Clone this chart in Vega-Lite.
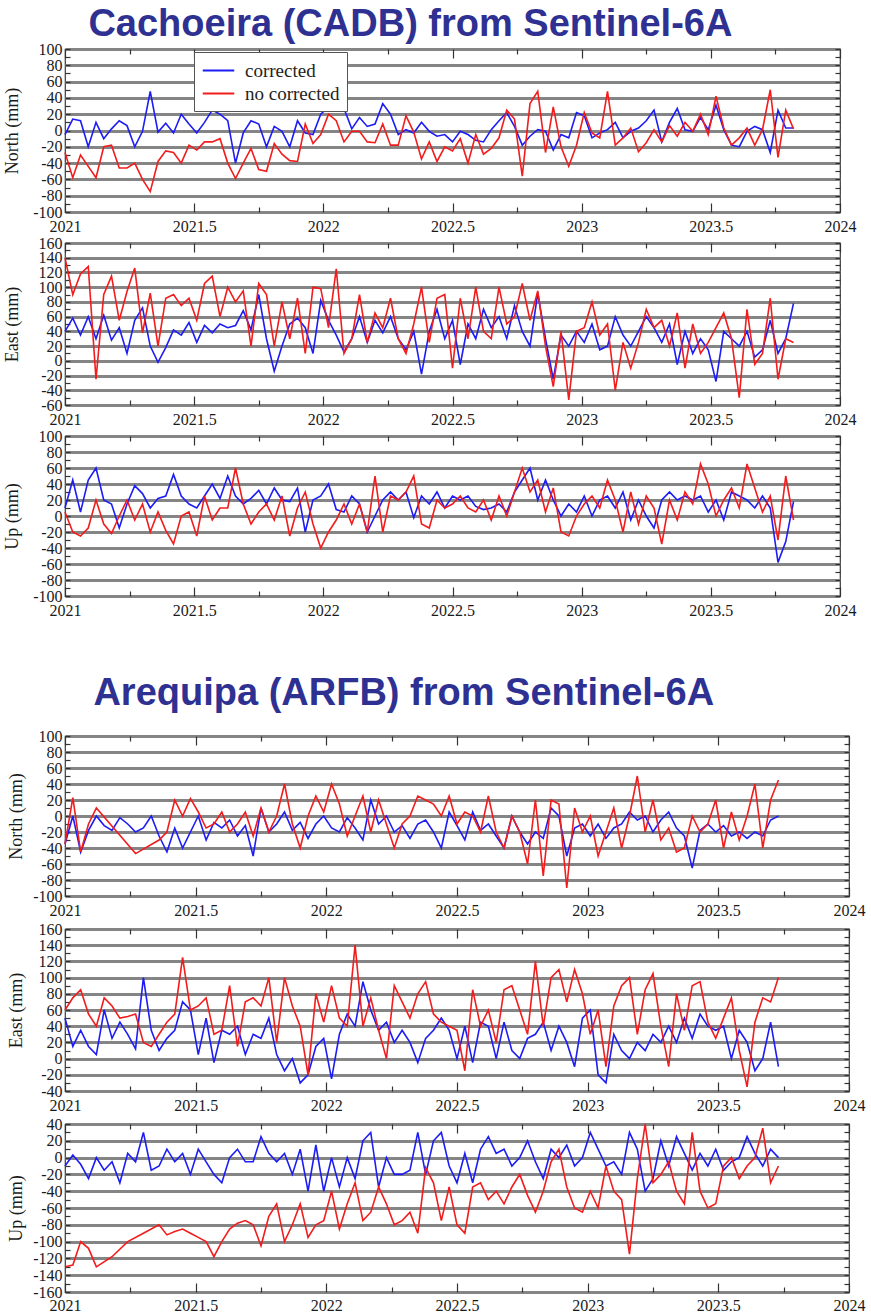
{
"$schema":"https://vega.github.io/schema/vega-lite/v6.json",
"background":"white",
"padding":{"left":2,"top":6,"right":4,"bottom":0},
"config":{
 "view":{"stroke":"#3a3a3a","strokeWidth":1.2},
 "axis":{"domain":false,"labelFont":"Liberation Serif","labelFontSize":16,"labelColor":"#1a1a1a","titleFont":"Liberation Serif","titleFontSize":18,"titleFontWeight":"normal","titleColor":"#1a1a1a","tickColor":"#333333","tickWidth":1.2,"labelOverlap":false,"labelFlush":false,"gridColor":"#858585","gridWidth":3},
 "title":{"font":"Liberation Sans","fontSize":38,"fontWeight":"bold","color":"#2e3192","anchor":"start"}
},
"datasets":{
"cadb":[
{"t":2021.00,"nc":-5,"nn":-27,"ec":40,"en":140,"uc":10,"un":5},
{"t":2021.03,"nc":14,"nn":-58,"ec":58,"en":90,"uc":45,"un":-20},
{"t":2021.06,"nc":12,"nn":-30,"ec":35,"en":118,"uc":5,"un":-25},
{"t":2021.09,"nc":-20,"nn":-44,"ec":60,"en":128,"uc":45,"un":-15},
{"t":2021.12,"nc":10,"nn":-58,"ec":30,"en":-25,"uc":60,"un":20},
{"t":2021.15,"nc":-10,"nn":-20,"ec":62,"en":90,"uc":20,"un":-10},
{"t":2021.18,"nc":2,"nn":-18,"ec":28,"en":115,"uc":15,"un":-22},
{"t":2021.21,"nc":12,"nn":-46,"ec":45,"en":55,"uc":-15,"un":0},
{"t":2021.24,"nc":6,"nn":-46,"ec":10,"en":94,"uc":15,"un":20},
{"t":2021.27,"nc":-20,"nn":-40,"ec":55,"en":126,"uc":38,"un":-5},
{"t":2021.30,"nc":-1,"nn":-60,"ec":72,"en":38,"uc":28,"un":15},
{"t":2021.33,"nc":48,"nn":-75,"ec":20,"en":92,"uc":10,"un":-20},
{"t":2021.36,"nc":-2,"nn":-38,"ec":-2,"en":20,"uc":22,"un":5},
{"t":2021.39,"nc":9,"nn":-25,"ec":18,"en":85,"uc":25,"un":-18},
{"t":2021.42,"nc":-3,"nn":-27,"ec":42,"en":90,"uc":52,"un":-35},
{"t":2021.45,"nc":20,"nn":-40,"ec":35,"en":75,"uc":25,"un":0},
{"t":2021.48,"nc":8,"nn":-18,"ec":52,"en":85,"uc":15,"un":5},
{"t":2021.51,"nc":-3,"nn":-24,"ec":25,"en":55,"uc":10,"un":-25},
{"t":2021.54,"nc":10,"nn":-14,"ec":48,"en":105,"uc":25,"un":25},
{"t":2021.57,"nc":25,"nn":-14,"ec":38,"en":115,"uc":40,"un":-5},
{"t":2021.60,"nc":20,"nn":-10,"ec":50,"en":60,"uc":22,"un":10},
{"t":2021.63,"nc":12,"nn":-40,"ec":45,"en":100,"uc":50,"un":10},
{"t":2021.66,"nc":-40,"nn":-59,"ec":48,"en":80,"uc":25,"un":60},
{"t":2021.69,"nc":-3,"nn":-40,"ec":68,"en":95,"uc":15,"un":15},
{"t":2021.72,"nc":12,"nn":-22,"ec":42,"en":20,"uc":22,"un":-10},
{"t":2021.75,"nc":8,"nn":-48,"ec":90,"en":105,"uc":32,"un":5},
{"t":2021.78,"nc":-20,"nn":-50,"ec":30,"en":90,"uc":15,"un":15},
{"t":2021.81,"nc":5,"nn":-16,"ec":-14,"en":20,"uc":35,"un":-5},
{"t":2021.84,"nc":-1,"nn":-29,"ec":20,"en":80,"uc":20,"un":25},
{"t":2021.87,"nc":-20,"nn":-37,"ec":50,"en":30,"uc":18,"un":-25},
{"t":2021.90,"nc":12,"nn":-38,"ec":58,"en":85,"uc":35,"un":10},
{"t":2021.93,"nc":-3,"nn":8,"ec":45,"en":10,"uc":-20,"un":30},
{"t":2021.96,"nc":-5,"nn":-16,"ec":10,"en":100,"uc":20,"un":-10},
{"t":2021.99,"nc":20,"nn":-5,"ec":82,"en":98,"uc":25,"un":-40},
{"t":2022.02,"nc":29,"nn":20,"ec":55,"en":45,"uc":40,"un":-20},
{"t":2022.05,"nc":25,"nn":12,"ec":35,"en":125,"uc":8,"un":-5},
{"t":2022.08,"nc":27,"nn":-14,"ec":12,"en":10,"uc":5,"un":15},
{"t":2022.11,"nc":2,"nn":-1,"ec":30,"en":30,"uc":25,"un":-10},
{"t":2022.14,"nc":16,"nn":-1,"ec":60,"en":90,"uc":15,"un":15},
{"t":2022.17,"nc":5,"nn":-14,"ec":25,"en":25,"uc":-20,"un":-20},
{"t":2022.20,"nc":8,"nn":-15,"ec":55,"en":65,"uc":0,"un":50},
{"t":2022.23,"nc":33,"nn":8,"ec":38,"en":45,"uc":20,"un":-20},
{"t":2022.26,"nc":20,"nn":-18,"ec":60,"en":85,"uc":30,"un":25},
{"t":2022.29,"nc":-5,"nn":-18,"ec":30,"en":30,"uc":20,"un":20},
{"t":2022.32,"nc":1,"nn":18,"ec":15,"en":10,"uc":30,"un":30},
{"t":2022.35,"nc":-3,"nn":-2,"ec":40,"en":50,"uc":-2,"un":50},
{"t":2022.38,"nc":10,"nn":-35,"ec":-18,"en":100,"uc":25,"un":-10},
{"t":2022.41,"nc":-1,"nn":-14,"ec":40,"en":25,"uc":15,"un":-15},
{"t":2022.44,"nc":-7,"nn":-38,"ec":70,"en":85,"uc":30,"un":20},
{"t":2022.47,"nc":-5,"nn":-20,"ec":30,"en":90,"uc":10,"un":10},
{"t":2022.50,"nc":-14,"nn":-25,"ec":55,"en":-10,"uc":25,"un":15},
{"t":2022.53,"nc":-1,"nn":-10,"ec":-5,"en":85,"uc":20,"un":25},
{"t":2022.56,"nc":-5,"nn":-40,"ec":50,"en":30,"uc":25,"un":10},
{"t":2022.59,"nc":-12,"nn":-5,"ec":30,"en":100,"uc":12,"un":5},
{"t":2022.62,"nc":-14,"nn":-29,"ec":70,"en":40,"uc":8,"un":20},
{"t":2022.65,"nc":1,"nn":-22,"ec":45,"en":30,"uc":10,"un":-5},
{"t":2022.68,"nc":12,"nn":-9,"ec":60,"en":100,"uc":15,"un":25},
{"t":2022.71,"nc":22,"nn":25,"ec":30,"en":50,"uc":5,"un":0},
{"t":2022.74,"nc":5,"nn":14,"ec":75,"en":60,"uc":30,"un":30},
{"t":2022.77,"nc":-18,"nn":-56,"ec":40,"en":105,"uc":45,"un":60},
{"t":2022.80,"nc":-7,"nn":33,"ec":20,"en":55,"uc":60,"un":30},
{"t":2022.83,"nc":1,"nn":48,"ec":92,"en":95,"uc":20,"un":45},
{"t":2022.86,"nc":-1,"nn":-27,"ec":30,"en":20,"uc":45,"un":5},
{"t":2022.89,"nc":-24,"nn":29,"ec":-25,"en":-35,"uc":20,"un":35},
{"t":2022.92,"nc":-5,"nn":-20,"ec":35,"en":40,"uc":0,"un":-20},
{"t":2022.95,"nc":-9,"nn":-44,"ec":20,"en":-53,"uc":15,"un":-25},
{"t":2022.98,"nc":22,"nn":-18,"ec":40,"en":40,"uc":5,"un":0},
{"t":2023.01,"nc":18,"nn":22,"ec":25,"en":45,"uc":25,"un":15},
{"t":2023.04,"nc":-9,"nn":-3,"ec":50,"en":80,"uc":0,"un":25},
{"t":2023.07,"nc":-3,"nn":-9,"ec":15,"en":35,"uc":20,"un":10},
{"t":2023.10,"nc":1,"nn":48,"ec":20,"en":50,"uc":25,"un":45},
{"t":2023.13,"nc":10,"nn":-18,"ec":60,"en":-40,"uc":10,"un":20},
{"t":2023.16,"nc":-9,"nn":-9,"ec":35,"en":25,"uc":30,"un":-20},
{"t":2023.19,"nc":-1,"nn":3,"ec":20,"en":-10,"uc":-5,"un":30},
{"t":2023.22,"nc":3,"nn":-26,"ec":40,"en":25,"uc":20,"un":-10},
{"t":2023.25,"nc":12,"nn":-15,"ec":60,"en":70,"uc":0,"un":25},
{"t":2023.28,"nc":25,"nn":1,"ec":45,"en":45,"uc":-15,"un":10},
{"t":2023.31,"nc":-14,"nn":-14,"ec":25,"en":55,"uc":20,"un":-35},
{"t":2023.34,"nc":10,"nn":6,"ec":50,"en":20,"uc":30,"un":20},
{"t":2023.37,"nc":27,"nn":-7,"ec":-5,"en":65,"uc":20,"un":-5},
{"t":2023.40,"nc":1,"nn":10,"ec":40,"en":-10,"uc":25,"un":30},
{"t":2023.43,"nc":-1,"nn":-1,"ec":10,"en":50,"uc":20,"un":15},
{"t":2023.46,"nc":16,"nn":20,"ec":30,"en":10,"uc":25,"un":65},
{"t":2023.49,"nc":1,"nn":-5,"ec":15,"en":25,"uc":5,"un":40},
{"t":2023.52,"nc":31,"nn":42,"ec":-28,"en":45,"uc":20,"un":0},
{"t":2023.55,"nc":1,"nn":3,"ec":40,"en":65,"uc":-5,"un":20},
{"t":2023.58,"nc":-18,"nn":-18,"ec":30,"en":30,"uc":30,"un":35},
{"t":2023.61,"nc":-20,"nn":-9,"ec":20,"en":-50,"uc":25,"un":10},
{"t":2023.64,"nc":-1,"nn":3,"ec":40,"en":70,"uc":20,"un":65},
{"t":2023.67,"nc":5,"nn":-18,"ec":5,"en":-5,"uc":10,"un":35},
{"t":2023.70,"nc":1,"nn":1,"ec":15,"en":10,"uc":25,"un":5},
{"t":2023.73,"nc":-27,"nn":50,"ec":55,"en":85,"uc":10,"un":25},
{"t":2023.76,"nc":25,"nn":-33,"ec":10,"en":-25,"uc":-58,"un":-30},
{"t":2023.79,"nc":3,"nn":25,"ec":30,"en":30,"uc":-32,"un":50},
{"t":2023.82,"nc":3,"nn":2,"ec":78,"en":25,"uc":18,"un":-5}
],
"arfb":[
{"t":2021.00,"nc":-35,"nn":-35,"ec":50,"en":60,"uc":-10,"un":-130},
{"t":2021.03,"nc":0,"nn":23,"ec":15,"en":75,"uc":3,"un":-128},
{"t":2021.06,"nc":-45,"nn":-45,"ec":35,"en":85,"uc":-8,"un":-100},
{"t":2021.09,"nc":-18,"nn":-10,"ec":15,"en":55,"uc":-25,"un":-108},
{"t":2021.12,"nc":0,"nn":10,"ec":5,"en":40,"uc":0,"un":-130},
{"t":2021.15,"nc":-12,"nn":null,"ec":60,"en":75,"uc":-15,"un":null},
{"t":2021.18,"nc":-18,"nn":null,"ec":25,"en":65,"uc":-5,"un":-118},
{"t":2021.21,"nc":-2,"nn":null,"ec":45,"en":50,"uc":-30,"un":null},
{"t":2021.24,"nc":-10,"nn":null,"ec":30,"en":52,"uc":5,"un":-100},
{"t":2021.27,"nc":-20,"nn":-47,"ec":12,"en":55,"uc":-5,"un":null},
{"t":2021.30,"nc":-15,"nn":null,"ec":100,"en":20,"uc":30,"un":-90},
{"t":2021.33,"nc":0,"nn":null,"ec":35,"en":15,"uc":-15,"un":null},
{"t":2021.36,"nc":-25,"nn":-30,"ec":10,"en":30,"uc":-10,"un":-80},
{"t":2021.39,"nc":-45,"nn":-20,"ec":25,"en":45,"uc":10,"un":-92},
{"t":2021.42,"nc":-15,"nn":20,"ec":35,"en":55,"uc":-5,"un":-88},
{"t":2021.45,"nc":-40,"nn":0,"ec":70,"en":125,"uc":5,"un":-85},
{"t":2021.48,"nc":-20,"nn":22,"ec":60,"en":60,"uc":-20,"un":-90},
{"t":2021.51,"nc":0,"nn":5,"ec":5,"en":65,"uc":10,"un":-95},
{"t":2021.54,"nc":-30,"nn":-15,"ec":50,"en":75,"uc":-5,"un":-100},
{"t":2021.57,"nc":-8,"nn":-10,"ec":-5,"en":30,"uc":-20,"un":-118},
{"t":2021.60,"nc":-15,"nn":5,"ec":35,"en":35,"uc":-30,"un":-100},
{"t":2021.63,"nc":-5,"nn":-20,"ec":30,"en":90,"uc":0,"un":-85},
{"t":2021.66,"nc":-25,"nn":-10,"ec":40,"en":15,"uc":10,"un":-78},
{"t":2021.69,"nc":-12,"nn":5,"ec":5,"en":70,"uc":-5,"un":-75},
{"t":2021.72,"nc":-50,"nn":-25,"ec":30,"en":75,"uc":-5,"un":-80},
{"t":2021.75,"nc":10,"nn":10,"ec":25,"en":65,"uc":25,"un":-105},
{"t":2021.78,"nc":-20,"nn":-20,"ec":50,"en":100,"uc":5,"un":-70},
{"t":2021.81,"nc":-10,"nn":0,"ec":5,"en":20,"uc":-5,"un":-55},
{"t":2021.84,"nc":5,"nn":40,"ec":-15,"en":100,"uc":5,"un":-100},
{"t":2021.87,"nc":-18,"nn":-10,"ec":0,"en":65,"uc":-20,"un":-80},
{"t":2021.90,"nc":-8,"nn":-40,"ec":-30,"en":40,"uc":10,"un":-55},
{"t":2021.93,"nc":-28,"nn":0,"ec":-20,"en":-20,"uc":-40,"un":-95},
{"t":2021.96,"nc":-10,"nn":25,"ec":15,"en":80,"uc":15,"un":-80},
{"t":2021.99,"nc":0,"nn":5,"ec":25,"en":45,"uc":-40,"un":-75},
{"t":2022.02,"nc":-15,"nn":40,"ec":-25,"en":90,"uc":0,"un":-40},
{"t":2022.05,"nc":-20,"nn":15,"ec":30,"en":50,"uc":-35,"un":-85},
{"t":2022.08,"nc":-2,"nn":-25,"ec":55,"en":40,"uc":0,"un":-55},
{"t":2022.11,"nc":-15,"nn":0,"ec":40,"en":140,"uc":-25,"un":-30},
{"t":2022.14,"nc":-30,"nn":25,"ec":95,"en":40,"uc":20,"un":-75},
{"t":2022.17,"nc":20,"nn":-20,"ec":60,"en":75,"uc":30,"un":-65},
{"t":2022.20,"nc":-10,"nn":20,"ec":35,"en":35,"uc":-35,"un":-35},
{"t":2022.23,"nc":0,"nn":-10,"ec":45,"en":0,"uc":0,"un":-55},
{"t":2022.26,"nc":-20,"nn":-40,"ec":20,"en":90,"uc":-20,"un":-80},
{"t":2022.29,"nc":-12,"nn":-10,"ec":35,"en":70,"uc":-20,"un":-75},
{"t":2022.32,"nc":-28,"nn":0,"ec":20,"en":50,"uc":-15,"un":-65},
{"t":2022.35,"nc":-10,"nn":25,"ec":-5,"en":80,"uc":30,"un":-90},
{"t":2022.38,"nc":-5,"nn":20,"ec":25,"en":95,"uc":-20,"un":-12},
{"t":2022.41,"nc":-20,"nn":15,"ec":35,"en":55,"uc":20,"un":-30},
{"t":2022.44,"nc":-40,"nn":0,"ec":50,"en":45,"uc":30,"un":-75},
{"t":2022.47,"nc":5,"nn":25,"ec":35,"en":40,"uc":-10,"un":-35},
{"t":2022.50,"nc":-12,"nn":-10,"ec":0,"en":35,"uc":-30,"un":-80},
{"t":2022.53,"nc":-30,"nn":5,"ec":40,"en":-15,"uc":5,"un":-90},
{"t":2022.56,"nc":5,"nn":0,"ec":-5,"en":85,"uc":-30,"un":-35},
{"t":2022.59,"nc":-18,"nn":-20,"ec":45,"en":40,"uc":10,"un":-30},
{"t":2022.62,"nc":-10,"nn":25,"ec":40,"en":60,"uc":25,"un":-50},
{"t":2022.65,"nc":-25,"nn":-20,"ec":0,"en":20,"uc":5,"un":-40},
{"t":2022.68,"nc":-40,"nn":-40,"ec":45,"en":85,"uc":10,"un":-55},
{"t":2022.71,"nc":0,"nn":0,"ec":10,"en":90,"uc":-10,"un":-35},
{"t":2022.74,"nc":-20,"nn":-20,"ec":0,"en":60,"uc":0,"un":-20},
{"t":2022.77,"nc":-35,"nn":-60,"ec":25,"en":30,"uc":20,"un":-45},
{"t":2022.80,"nc":-20,"nn":20,"ec":30,"en":120,"uc":-5,"un":-65},
{"t":2022.83,"nc":-28,"nn":-75,"ec":45,"en":40,"uc":-25,"un":-40},
{"t":2022.86,"nc":10,"nn":20,"ec":10,"en":100,"uc":10,"un":-5},
{"t":2022.89,"nc":0,"nn":15,"ec":40,"en":110,"uc":0,"un":10},
{"t":2022.92,"nc":-50,"nn":-90,"ec":20,"en":70,"uc":15,"un":-35},
{"t":2022.95,"nc":-15,"nn":10,"ec":-10,"en":110,"uc":-10,"un":-60},
{"t":2022.98,"nc":-10,"nn":-20,"ec":50,"en":80,"uc":0,"un":-65},
{"t":2023.01,"nc":-25,"nn":0,"ec":60,"en":30,"uc":30,"un":-40},
{"t":2023.04,"nc":-10,"nn":-50,"ec":-20,"en":60,"uc":10,"un":-60},
{"t":2023.07,"nc":-28,"nn":-20,"ec":-30,"en":-10,"uc":-10,"un":-10},
{"t":2023.10,"nc":-15,"nn":10,"ec":30,"en":65,"uc":-5,"un":-40},
{"t":2023.13,"nc":-10,"nn":-40,"ec":10,"en":90,"uc":-20,"un":-50},
{"t":2023.16,"nc":5,"nn":0,"ec":0,"en":100,"uc":30,"un":-115},
{"t":2023.19,"nc":-5,"nn":50,"ec":20,"en":30,"uc":10,"un":-25},
{"t":2023.22,"nc":0,"nn":-20,"ec":10,"en":85,"uc":-40,"un":40},
{"t":2023.25,"nc":-20,"nn":20,"ec":30,"en":105,"uc":-25,"un":-30},
{"t":2023.28,"nc":-5,"nn":-30,"ec":20,"en":40,"uc":20,"un":-20},
{"t":2023.31,"nc":5,"nn":-15,"ec":40,"en":-10,"uc":-10,"un":-5},
{"t":2023.34,"nc":-15,"nn":-45,"ec":20,"en":80,"uc":25,"un":-40},
{"t":2023.37,"nc":-25,"nn":-40,"ec":50,"en":35,"uc":5,"un":-55},
{"t":2023.40,"nc":-65,"nn":0,"ec":25,"en":90,"uc":-15,"un":30},
{"t":2023.43,"nc":-18,"nn":-20,"ec":55,"en":95,"uc":5,"un":-40},
{"t":2023.46,"nc":-10,"nn":-10,"ec":40,"en":45,"uc":-10,"un":-60},
{"t":2023.49,"nc":-20,"nn":20,"ec":35,"en":25,"uc":10,"un":-55},
{"t":2023.52,"nc":-12,"nn":-40,"ec":40,"en":50,"uc":-15,"un":-10},
{"t":2023.55,"nc":-25,"nn":5,"ec":0,"en":75,"uc":-5,"un":0},
{"t":2023.58,"nc":-20,"nn":-30,"ec":35,"en":10,"uc":0,"un":-25},
{"t":2023.61,"nc":-28,"nn":0,"ec":20,"en":-35,"uc":25,"un":-10},
{"t":2023.64,"nc":-20,"nn":40,"ec":-15,"en":45,"uc":5,"un":0},
{"t":2023.67,"nc":-25,"nn":-40,"ec":0,"en":75,"uc":-10,"un":35},
{"t":2023.70,"nc":-5,"nn":20,"ec":45,"en":70,"uc":10,"un":-30},
{"t":2023.73,"nc":0,"nn":45,"ec":-10,"en":100,"uc":0,"un":-10}
]
},
"columns":1,
"align":"none",
"spacing":52,
"resolve":{"scale":{"color":"independent"}},
"concat":[
{
 "title":{"text":"Cachoeira (CADB) from Sentinel-6A","dx":86,"offset":-4},
 "spacing":-5,
 "resolve":{"scale":{"color":"independent"}},
 "vconcat":[
 {"width":775,"height":163,"data":{"name":"cadb"},"transform":[{"fold":["nc","nn"],"as":["s","v"]},{"filter":"isValid(datum.v)"}],
  "layer":[
   {"mark":{"type":"line","strokeWidth":1.6},
    "encoding":{
     "x":{"field":"t","type":"quantitative","scale":{"domain":[2021,2024],"nice":false,"zero":false},
      "axis":{"orient":"bottom","values":[2021,2021.25,2021.5,2021.75,2022,2022.25,2022.5,2022.75,2023,2023.25,2023.5,2023.75,2024],"labelExpr":"datum.value % 0.5 == 0 ? toString(datum.value) : ''","tickSize":{"condition":{"test":"datum.value % 0.5 == 0","value":-9},"value":-5},"labelPadding":15,"grid":false,"title":null}},
     "y":{"field":"v","type":"quantitative","scale":{"domain":[-100,100],"nice":false,"zero":false},
      "axis":{"orient":"left","values":[-100,-90,-80,-70,-60,-50,-40,-30,-20,-10,0,10,20,30,40,50,60,70,80,90,100],"labelExpr":"datum.value % 20 == 0 ? toString(datum.value) : ''","tickSize":-5,"labelPadding":8,"grid":true,"gridOpacity":{"condition":{"test":"datum.value % 20 == 0","value":1},"value":0},"title":"North (mm)","titleX":-44}},
     "color":{"field":"s","type":"nominal","scale":{"domain":["nc","nn"],"range":["#1c1cf5","#f21c1c"]},
      "legend":{"orient":"none","legendX":129,"legendY":3,"title":null,"labelExpr":"datum.label == 'nc' ? 'corrected' : 'no corrected'","symbolType":"M-1.5,0H1.5","symbolSize":441,"symbolStrokeWidth":2,"symbolOffset":6,"labelFont":"Liberation Serif","labelFontSize":19,"labelColor":"#222222","strokeColor":"#555555","fillColor":"white","padding":7,"rowPadding":1,"labelOffset":15}}
    }},
   {"mark":{"type":"line","opacity":0},
    "encoding":{
     "x":{"field":"t","type":"quantitative","scale":{"domain":[2021,2024],"nice":false,"zero":false},
      "axis":{"orient":"top","values":[2021,2021.25,2021.5,2021.75,2022,2022.25,2022.5,2022.75,2023,2023.25,2023.5,2023.75,2024],"labels":false,"tickSize":{"condition":{"test":"datum.value % 0.5 == 0","value":-9},"value":-5},"grid":false,"title":null}},
     "y":{"field":"v","type":"quantitative","scale":{"domain":[-100,100],"nice":false,"zero":false},
      "axis":{"orient":"right","values":[-100,-90,-80,-70,-60,-50,-40,-30,-20,-10,0,10,20,30,40,50,60,70,80,90,100],"labels":false,"tickSize":-5,"grid":false,"title":null}},
     "detail":{"field":"s"}
    }}
  ]},
 {"width":775,"height":162,"data":{"name":"cadb"},"transform":[{"fold":["ec","en"],"as":["s","v"]},{"filter":"isValid(datum.v)"}],
  "layer":[
   {"mark":{"type":"line","strokeWidth":1.6},
    "encoding":{
     "x":{"field":"t","type":"quantitative","scale":{"domain":[2021,2024],"nice":false,"zero":false},
      "axis":{"orient":"bottom","values":[2021,2021.25,2021.5,2021.75,2022,2022.25,2022.5,2022.75,2023,2023.25,2023.5,2023.75,2024],"labelExpr":"datum.value % 0.5 == 0 ? toString(datum.value) : ''","tickSize":{"condition":{"test":"datum.value % 0.5 == 0","value":-9},"value":-5},"labelPadding":15,"grid":false,"title":null}},
     "y":{"field":"v","type":"quantitative","scale":{"domain":[-60,160],"nice":false,"zero":false},
      "axis":{"orient":"left","values":[-60,-50,-40,-30,-20,-10,0,10,20,30,40,50,60,70,80,90,100,110,120,130,140,150,160],"labelExpr":"datum.value % 20 == 0 ? toString(datum.value) : ''","tickSize":-5,"labelPadding":8,"grid":true,"gridOpacity":{"condition":{"test":"datum.value % 20 == 0","value":1},"value":0},"title":"East (mm)","titleX":-44}},
     "color":{"field":"s","type":"nominal","scale":{"domain":["ec","en"],"range":["#1c1cf5","#f21c1c"]},"legend":null}
    }},
   {"mark":{"type":"line","opacity":0},
    "encoding":{
     "x":{"field":"t","type":"quantitative","scale":{"domain":[2021,2024],"nice":false,"zero":false},
      "axis":{"orient":"top","values":[2021,2021.25,2021.5,2021.75,2022,2022.25,2022.5,2022.75,2023,2023.25,2023.5,2023.75,2024],"labels":false,"tickSize":{"condition":{"test":"datum.value % 0.5 == 0","value":-9},"value":-5},"grid":false,"title":null}},
     "y":{"field":"v","type":"quantitative","scale":{"domain":[-60,160],"nice":false,"zero":false},
      "axis":{"orient":"right","values":[-60,-50,-40,-30,-20,-10,0,10,20,30,40,50,60,70,80,90,100,110,120,130,140,150,160],"labels":false,"tickSize":-5,"grid":false,"title":null}},
     "detail":{"field":"s"}
    }}
  ]},
 {"width":775,"height":160,"data":{"name":"cadb"},"transform":[{"fold":["uc","un"],"as":["s","v"]},{"filter":"isValid(datum.v)"}],
  "layer":[
   {"mark":{"type":"line","strokeWidth":1.6},
    "encoding":{
     "x":{"field":"t","type":"quantitative","scale":{"domain":[2021,2024],"nice":false,"zero":false},
      "axis":{"orient":"bottom","values":[2021,2021.25,2021.5,2021.75,2022,2022.25,2022.5,2022.75,2023,2023.25,2023.5,2023.75,2024],"labelExpr":"datum.value % 0.5 == 0 ? toString(datum.value) : ''","tickSize":{"condition":{"test":"datum.value % 0.5 == 0","value":-9},"value":-5},"labelPadding":15,"grid":false,"title":null}},
     "y":{"field":"v","type":"quantitative","scale":{"domain":[-100,100],"nice":false,"zero":false},
      "axis":{"orient":"left","values":[-100,-90,-80,-70,-60,-50,-40,-30,-20,-10,0,10,20,30,40,50,60,70,80,90,100],"labelExpr":"datum.value % 20 == 0 ? toString(datum.value) : ''","tickSize":-5,"labelPadding":8,"grid":true,"gridOpacity":{"condition":{"test":"datum.value % 20 == 0","value":1},"value":0},"title":"Up (mm)","titleX":-44}},
     "color":{"field":"s","type":"nominal","scale":{"domain":["uc","un"],"range":["#1c1cf5","#f21c1c"]},"legend":null}
    }},
   {"mark":{"type":"line","opacity":0},
    "encoding":{
     "x":{"field":"t","type":"quantitative","scale":{"domain":[2021,2024],"nice":false,"zero":false},
      "axis":{"orient":"top","values":[2021,2021.25,2021.5,2021.75,2022,2022.25,2022.5,2022.75,2023,2023.25,2023.5,2023.75,2024],"labels":false,"tickSize":{"condition":{"test":"datum.value % 0.5 == 0","value":-9},"value":-5},"grid":false,"title":null}},
     "y":{"field":"v","type":"quantitative","scale":{"domain":[-100,100],"nice":false,"zero":false},
      "axis":{"orient":"right","values":[-100,-90,-80,-70,-60,-50,-40,-30,-20,-10,0,10,20,30,40,50,60,70,80,90,100],"labels":false,"tickSize":-5,"grid":false,"title":null}},
     "detail":{"field":"s"}
    }}
  ]}
 ]
},
{
 "title":{"text":"Arequipa (ARFB) from Sentinel-6A","dx":87,"offset":14},
 "spacing":-3,
 "resolve":{"scale":{"color":"independent"}},
 "vconcat":[
 {"width":784,"height":160,"data":{"name":"arfb"},"transform":[{"fold":["nc","nn"],"as":["s","v"]},{"filter":"isValid(datum.v)"}],
  "layer":[
   {"mark":{"type":"line","strokeWidth":1.6},
    "encoding":{
     "x":{"field":"t","type":"quantitative","scale":{"domain":[2021,2024],"nice":false,"zero":false},
      "axis":{"orient":"bottom","values":[2021,2021.25,2021.5,2021.75,2022,2022.25,2022.5,2022.75,2023,2023.25,2023.5,2023.75,2024],"labelExpr":"datum.value % 0.5 == 0 ? toString(datum.value) : ''","tickSize":{"condition":{"test":"datum.value % 0.5 == 0","value":-9},"value":-5},"labelPadding":15,"grid":false,"title":null}},
     "y":{"field":"v","type":"quantitative","scale":{"domain":[-100,100],"nice":false,"zero":false},
      "axis":{"orient":"left","values":[-100,-90,-80,-70,-60,-50,-40,-30,-20,-10,0,10,20,30,40,50,60,70,80,90,100],"labelExpr":"datum.value % 20 == 0 ? toString(datum.value) : ''","tickSize":-5,"labelPadding":8,"grid":true,"gridOpacity":{"condition":{"test":"datum.value % 20 == 0","value":1},"value":0},"title":"North (mm)","titleX":-40}},
     "color":{"field":"s","type":"nominal","scale":{"domain":["nc","nn"],"range":["#1c1cf5","#f21c1c"]},"legend":null}
    }},
   {"mark":{"type":"line","opacity":0},
    "encoding":{
     "x":{"field":"t","type":"quantitative","scale":{"domain":[2021,2024],"nice":false,"zero":false},
      "axis":{"orient":"top","values":[2021,2021.25,2021.5,2021.75,2022,2022.25,2022.5,2022.75,2023,2023.25,2023.5,2023.75,2024],"labels":false,"tickSize":{"condition":{"test":"datum.value % 0.5 == 0","value":-9},"value":-5},"grid":false,"title":null}},
     "y":{"field":"v","type":"quantitative","scale":{"domain":[-100,100],"nice":false,"zero":false},
      "axis":{"orient":"right","values":[-100,-90,-80,-70,-60,-50,-40,-30,-20,-10,0,10,20,30,40,50,60,70,80,90,100],"labels":false,"tickSize":-5,"grid":false,"title":null}},
     "detail":{"field":"s"}
    }}
  ]},
 {"width":784,"height":162,"data":{"name":"arfb"},"transform":[{"fold":["ec","en"],"as":["s","v"]},{"filter":"isValid(datum.v)"}],
  "layer":[
   {"mark":{"type":"line","strokeWidth":1.6},
    "encoding":{
     "x":{"field":"t","type":"quantitative","scale":{"domain":[2021,2024],"nice":false,"zero":false},
      "axis":{"orient":"bottom","values":[2021,2021.25,2021.5,2021.75,2022,2022.25,2022.5,2022.75,2023,2023.25,2023.5,2023.75,2024],"labelExpr":"datum.value % 0.5 == 0 ? toString(datum.value) : ''","tickSize":{"condition":{"test":"datum.value % 0.5 == 0","value":-9},"value":-5},"labelPadding":15,"grid":false,"title":null}},
     "y":{"field":"v","type":"quantitative","scale":{"domain":[-40,160],"nice":false,"zero":false},
      "axis":{"orient":"left","values":[-40,-30,-20,-10,0,10,20,30,40,50,60,70,80,90,100,110,120,130,140,150,160],"labelExpr":"datum.value % 20 == 0 ? toString(datum.value) : ''","tickSize":-5,"labelPadding":8,"grid":true,"gridOpacity":{"condition":{"test":"datum.value % 20 == 0","value":1},"value":0},"title":"East (mm)","titleX":-40}},
     "color":{"field":"s","type":"nominal","scale":{"domain":["ec","en"],"range":["#1c1cf5","#f21c1c"]},"legend":null}
    }},
   {"mark":{"type":"line","opacity":0},
    "encoding":{
     "x":{"field":"t","type":"quantitative","scale":{"domain":[2021,2024],"nice":false,"zero":false},
      "axis":{"orient":"top","values":[2021,2021.25,2021.5,2021.75,2022,2022.25,2022.5,2022.75,2023,2023.25,2023.5,2023.75,2024],"labels":false,"tickSize":{"condition":{"test":"datum.value % 0.5 == 0","value":-9},"value":-5},"grid":false,"title":null}},
     "y":{"field":"v","type":"quantitative","scale":{"domain":[-40,160],"nice":false,"zero":false},
      "axis":{"orient":"right","values":[-40,-30,-20,-10,0,10,20,30,40,50,60,70,80,90,100,110,120,130,140,150,160],"labels":false,"tickSize":-5,"grid":false,"title":null}},
     "detail":{"field":"s"}
    }}
  ]},
 {"width":784,"height":168,"data":{"name":"arfb"},"transform":[{"fold":["uc","un"],"as":["s","v"]},{"filter":"isValid(datum.v)"}],
  "layer":[
   {"mark":{"type":"line","strokeWidth":1.6},
    "encoding":{
     "x":{"field":"t","type":"quantitative","scale":{"domain":[2021,2024],"nice":false,"zero":false},
      "axis":{"orient":"bottom","values":[2021,2021.25,2021.5,2021.75,2022,2022.25,2022.5,2022.75,2023,2023.25,2023.5,2023.75,2024],"labelExpr":"datum.value % 0.5 == 0 ? toString(datum.value) : ''","tickSize":{"condition":{"test":"datum.value % 0.5 == 0","value":-9},"value":-5},"labelPadding":14,"grid":false,"title":null}},
     "y":{"field":"v","type":"quantitative","scale":{"domain":[-160,40],"nice":false,"zero":false},
      "axis":{"orient":"left","values":[-160,-150,-140,-130,-120,-110,-100,-90,-80,-70,-60,-50,-40,-30,-20,-10,0,10,20,30,40],"labelExpr":"datum.value % 20 == 0 ? toString(datum.value) : ''","tickSize":-5,"labelPadding":8,"grid":true,"gridOpacity":{"condition":{"test":"datum.value % 20 == 0","value":1},"value":0},"title":"Up (mm)","titleX":-40}},
     "color":{"field":"s","type":"nominal","scale":{"domain":["uc","un"],"range":["#1c1cf5","#f21c1c"]},"legend":null}
    }},
   {"mark":{"type":"line","opacity":0},
    "encoding":{
     "x":{"field":"t","type":"quantitative","scale":{"domain":[2021,2024],"nice":false,"zero":false},
      "axis":{"orient":"top","values":[2021,2021.25,2021.5,2021.75,2022,2022.25,2022.5,2022.75,2023,2023.25,2023.5,2023.75,2024],"labels":false,"tickSize":{"condition":{"test":"datum.value % 0.5 == 0","value":-9},"value":-5},"grid":false,"title":null}},
     "y":{"field":"v","type":"quantitative","scale":{"domain":[-160,40],"nice":false,"zero":false},
      "axis":{"orient":"right","values":[-160,-150,-140,-130,-120,-110,-100,-90,-80,-70,-60,-50,-40,-30,-20,-10,0,10,20,30,40],"labels":false,"tickSize":-5,"grid":false,"title":null}},
     "detail":{"field":"s"}
    }}
  ]}
 ]
}
]
}
